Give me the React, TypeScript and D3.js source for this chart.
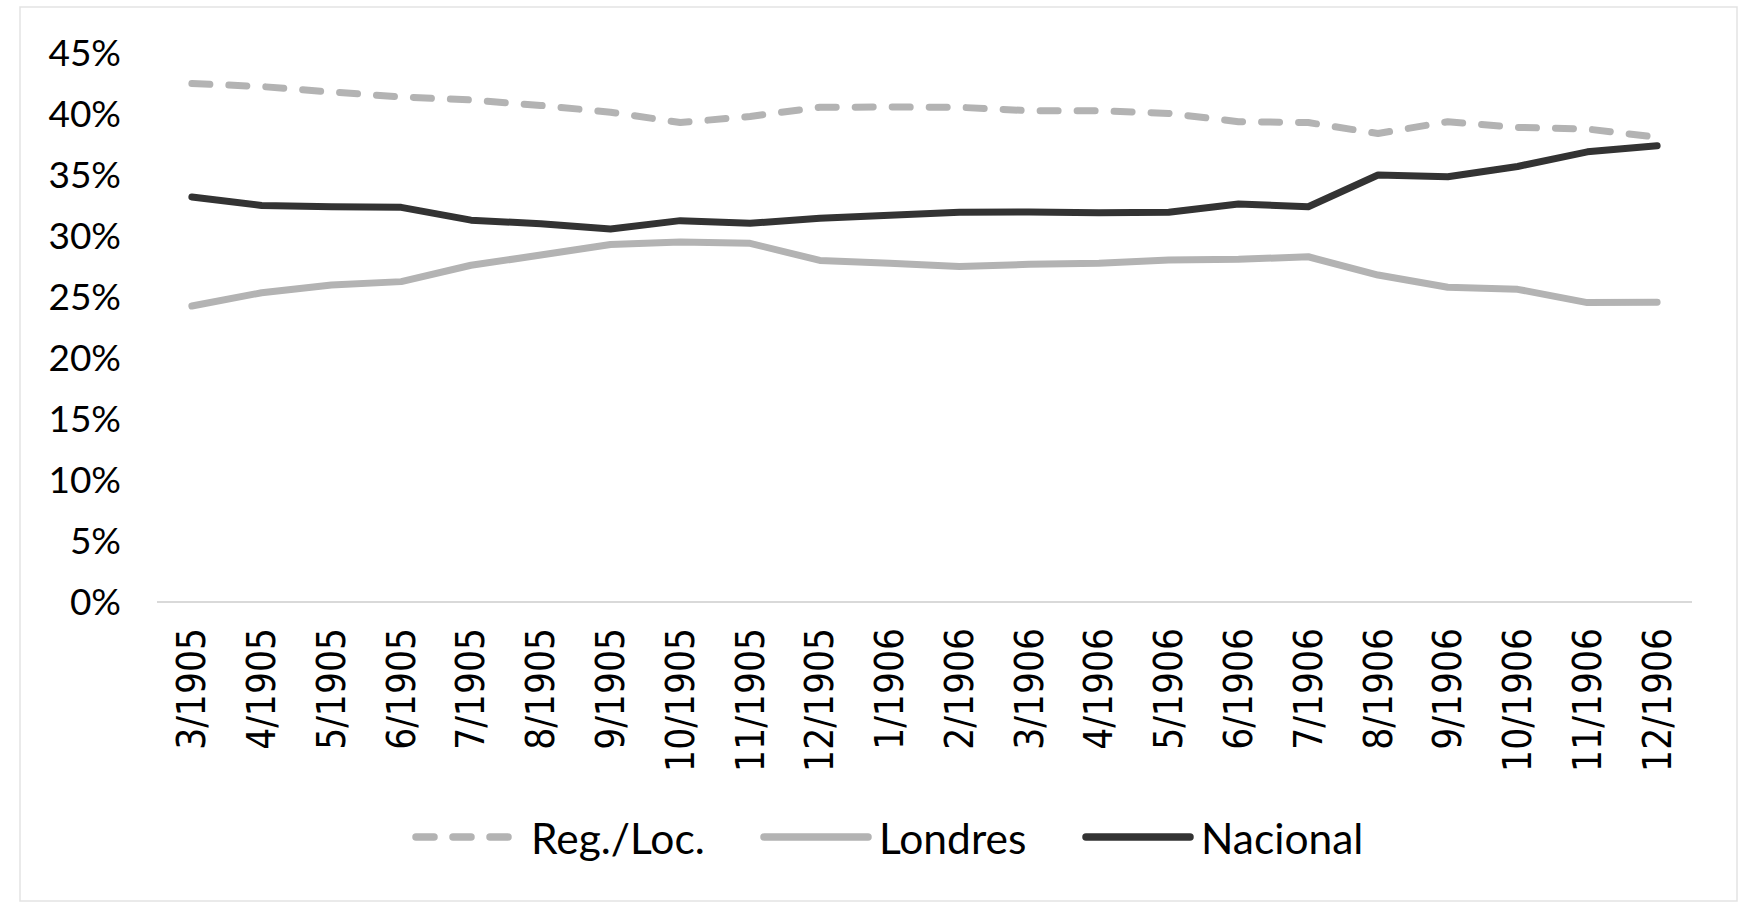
import * as d3 from "d3";

const months = [
  "3/1905", "4/1905", "5/1905", "6/1905", "7/1905", "8/1905", "9/1905", "10/1905",
  "11/1905", "12/1905", "1/1906", "2/1906", "3/1906", "4/1906", "5/1906", "6/1906",
  "7/1906", "8/1906", "9/1906", "10/1906", "11/1906", "12/1906",
];

// percentages
const regLoc = [
  42.5, 42.25, 41.8, 41.4, 41.15, 40.7, 40.15, 39.3, 39.8, 40.55, 40.57,
  40.55, 40.27, 40.27, 40.05, 39.37, 39.3, 38.4, 39.37, 38.9, 38.77, 38.1,
];
const londres = [
  24.26, 25.35, 25.98, 26.26, 27.6, 28.44, 29.3, 29.5, 29.4, 28.0, 27.76,
  27.5, 27.68, 27.76, 28.03, 28.09, 28.3, 26.8, 25.8, 25.63, 24.54, 24.57,
];
const nacional = [
  33.2, 32.5, 32.4, 32.35, 31.3, 31.0, 30.57, 31.26, 31.04, 31.45, 31.7,
  31.94, 31.97, 31.9, 31.94, 32.62, 32.4, 35.0, 34.86, 35.7, 36.9, 37.4,
];

const yTicks = [0, 5, 10, 15, 20, 25, 30, 35, 40, 45];

const series = [
  { name: "Reg./Loc.", values: regLoc, color: "#b3b3b3", dash: "18 19" },
  { name: "Londres", values: londres, color: "#b3b3b3", dash: null },
  { name: "Nacional", values: nacional, color: "#333333", dash: null },
];

const legendX = [412, 760, 1082];

export default function App() {
  const width = 1745;
  const height = 905;
  const x = d3.scaleBand<string>().domain(months).range([157, 1692]);
  const y = d3.scaleLinear().domain([0, 45]).range([602, 53]);
  const line = d3
    .line<number>()
    .x((_, i) => (x(months[i]) ?? 0) + x.bandwidth() / 2)
    .y((d) => y(d));

  return (
    <svg
      width={width}
      height={height}
      style={{ position: "absolute", left: 0, top: 0, background: "#fff" }}
    >
      <rect x={20} y={7} width={1717} height={894} fill="#fff" stroke="#e3e3e3" strokeWidth={1.5} />

      {yTicks.map((t) => (
        <text
          key={t}
          x={121}
          y={y(t) - 2}
          textAnchor="end"
          dominantBaseline="central"
          fontFamily="Lato, 'Open Sans', sans-serif"
          fontSize={37}
          fill="#000"
        >
          {t}%
        </text>
      ))}

      <line x1={157} x2={1692} y1={y(0)} y2={y(0)} stroke="#d9d9d9" strokeWidth={2} />

      {months.map((m) => {
        const cx = (x(m) ?? 0) + x.bandwidth() / 2;
        return (
          <text
            key={m}
            transform={`translate(${cx},${y(0) + 26}) rotate(-90)`}
            textAnchor="end"
            dominantBaseline="central"
            fontFamily="'DejaVu Sans Condensed', 'DejaVu Sans', sans-serif"
            fontStretch="condensed"
            fontSize={38.5}
            fill="#000"
          >
            {m}
          </text>
        );
      })}

      {series.map((s) => (
        <path
          key={s.name}
          d={line(s.values) ?? ""}
          fill="none"
          stroke={s.color}
          strokeWidth={7}
          strokeLinecap="round"
          strokeLinejoin="round"
          strokeDasharray={s.dash ?? undefined}
        />
      ))}

      {series.map((s, i) => (
        <g key={s.name} transform={`translate(${legendX[i]},837)`}>
          <line
            x1={4}
            x2={s.dash ? 100 : 108}
            y1={0}
            y2={0}
            stroke={s.color}
            strokeWidth={7.5}
            strokeLinecap="round"
            strokeDasharray={s.dash ?? undefined}
          />
          <text
            x={119}
            y={0}
            dominantBaseline="central"
            fontFamily="Lato, 'Open Sans', sans-serif"
            fontSize={42.5}
            fill="#000"
          >
            {s.name}
          </text>
        </g>
      ))}
    </svg>
  );
}
